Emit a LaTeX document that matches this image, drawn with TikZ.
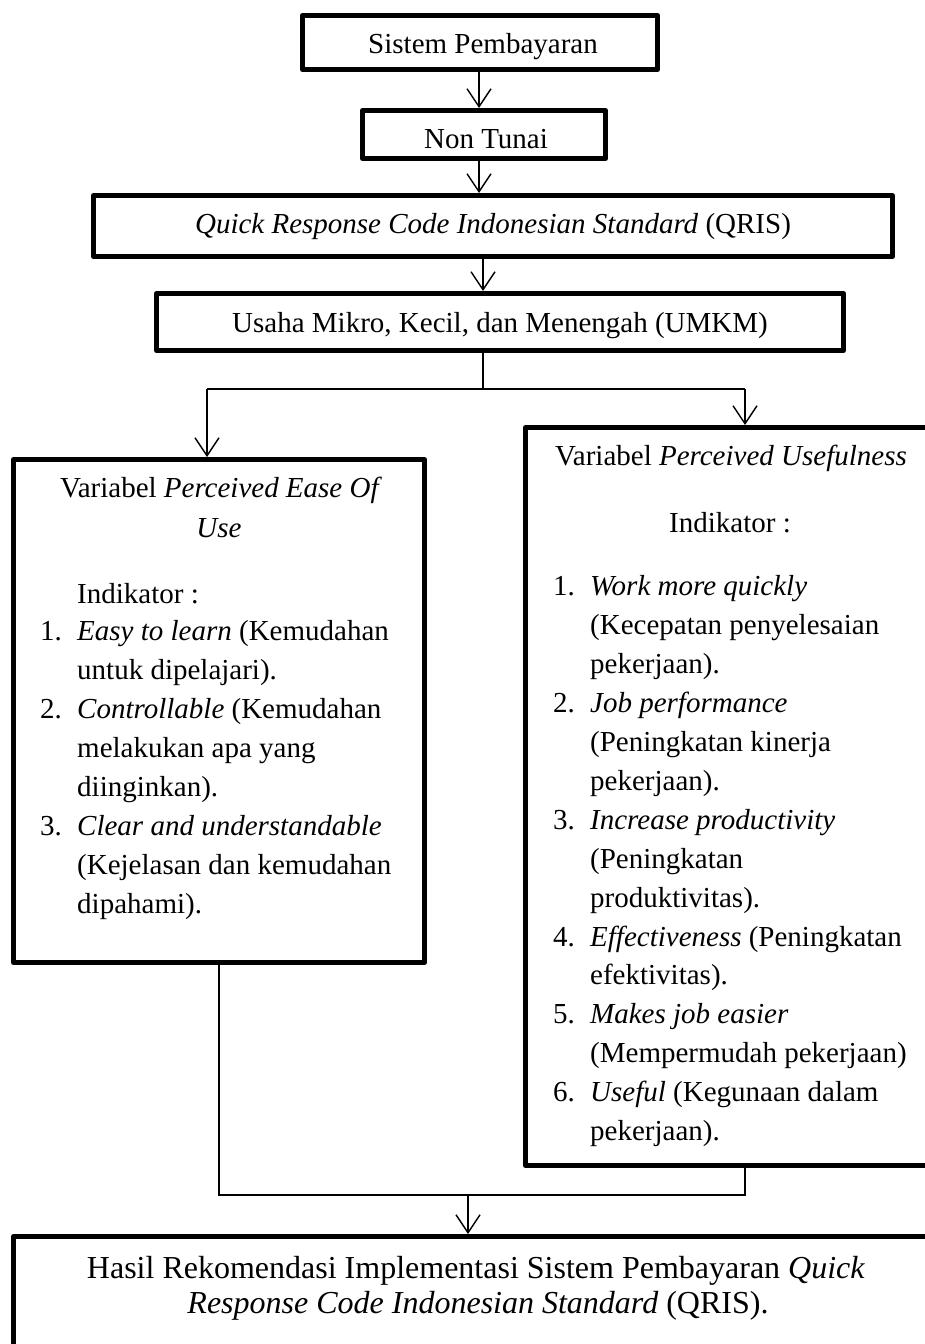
\documentclass[tikz,border=0pt]{standalone}
\usepackage{fontspec}
\setmainfont{Liberation Serif}
\usetikzlibrary{arrows.meta}
\begin{document}
\begin{tikzpicture}[x=1pt,y=-1pt,
  box/.style={draw, line width=5pt, line join=round, inner sep=0pt, fill=white},
  conn/.style={line width=1.4pt},
  arr/.style={conn, -{Straight Barb[length=18pt,width=24pt]}},
  txt/.style={inner sep=0pt, font=\fontsize{29}{39}\selectfont},
  ctr/.style={txt, anchor=base},
  lft/.style={txt, anchor=base west},
  big/.style={inner sep=0pt, anchor=base, font=\fontsize{32}{35}\selectfont}]
\useasboundingbox (0,0) rectangle (925,1344);
\clip (0,0) rectangle (925,1344);

% boxes
\node[box, minimum width=355pt, minimum height=54pt]  (b1) at (480,42.5) {};
\node[box, minimum width=243pt, minimum height=48pt]  (b2) at (484,134.5) {};
\node[box, minimum width=799pt, minimum height=61pt]  (b3) at (493,226) {};
\node[box, minimum width=687pt, minimum height=57pt]  (b4) at (500,322) {};
\node[box, minimum width=411pt, minimum height=503pt] (bL) at (219,711) {};
\node[box, minimum width=432pt, minimum height=738pt] (bR) at (741.5,796.5) {};
\node[box, minimum width=944pt, minimum height=161pt] (bB) at (485.5,1317) {};

% connector guides
\coordinate (a1) at (479,0);
\coordinate (a3) at (483,0);
\coordinate (j)  at (483,389);
\coordinate (jl) at (207,389);
\coordinate (jr) at (745,389);
\coordinate (kl) at (219,1195);
\coordinate (kr) at (745,1195);
\coordinate (km) at (468,1195);

\draw[arr] (b1.south -| a1) -- (b2.north -| a1);
\draw[arr] (b2.south -| a1) -- (b3.north -| a1);
\draw[arr] (b3.south -| a3) -- (b4.north -| a3);
\draw[conn] (b4.south -| a3) -- (j);
\draw[conn] (jl) -- (jr);
\draw[arr] (jl) -- (bL.north -| jl);
\draw[arr] (jr) -- (bR.north -| jr);
\draw[conn] (bL.south -| kl) -- (kl) -- (kr) -- (bR.south -| kr);
\draw[arr] (km) -- (bB.north -| km);

% texts of the top chain
\node[ctr] (t1) at (483,53) {Sistem Pembayaran};
\node[ctr] (t2) at (486,148) {Non Tunai};
\node[ctr] (t3) at (493,233) {\textit{Quick Response Code Indonesian Standard} (QRIS)};
\node[ctr] (t4) at (500,332) {Usaha Mikro, Kecil, dan Menengah (UMKM)};

% left variable
\node[ctr] (l0) at (221,497) {Variabel \textit{Perceived Ease Of}};
\node[ctr] (l1) at (219,537) {\textit{Use}};
\node[lft] (l2) at (77,603) {Indikator :};
\node[lft] (ln1) at (40,640) {1.};
\node[lft] (lt1) at (77,640) {\textit{Easy to learn} (Kemudahan};
\node[lft] (lt2) at (77,679) {untuk dipelajari).};
\node[lft] (ln2) at (40,718) {2.};
\node[lft] (lt3) at (77,718) {\textit{Controllable} (Kemudahan};
\node[lft] (lt4) at (77,757) {melakukan apa yang};
\node[lft] (lt5) at (77,796) {diinginkan).};
\node[lft] (ln3) at (40,835) {3.};
\node[lft] (lt6) at (77,835) {\textit{Clear and understandable}};
\node[lft] (lt7) at (77,874) {(Kejelasan dan kemudahan};
\node[lft] (lt8) at (77,913) {dipahami).};

% right variable
\node[ctr] (r0) at (731,465) {Variabel \textit{Perceived Usefulness}};
\node[ctr] (r1) at (730,532) {Indikator :};
\node[lft] (rn1) at (553,595) {1.};
\node[lft] (rt1) at (590,595) {\textit{Work more quickly}};
\node[lft] (rt2) at (590,634) {(Kecepatan penyelesaian};
\node[lft] (rt3) at (590,673) {pekerjaan).};
\node[lft] (rn2) at (553,712) {2.};
\node[lft] (rt4) at (590,712) {\textit{Job performance}};
\node[lft] (rt5) at (590,751) {(Peningkatan kinerja};
\node[lft] (rt6) at (590,790) {pekerjaan).};
\node[lft] (rn3) at (553,829) {3.};
\node[lft] (rt7) at (590,829) {\textit{Increase productivity}};
\node[lft] (rt8) at (590,868) {(Peningkatan};
\node[lft] (rt9) at (590,907) {produktivitas).};
\node[lft] (rn4) at (553,946) {4.};
\node[lft] (rt10) at (590,946) {\textit{Effectiveness} (Peningkatan};
\node[lft] (rt11) at (590,984) {efektivitas).};
\node[lft] (rn5) at (553,1023) {5.};
\node[lft] (rt12) at (590,1023) {\textit{Makes job easier}};
\node[lft] (rt13) at (590,1062) {(Mempermudah pekerjaan)};
\node[lft] (rn6) at (553,1101) {6.};
\node[lft] (rt14) at (590,1101) {\textit{Useful} (Kegunaan dalam};
\node[lft] (rt15) at (590,1140) {pekerjaan).};

% result box text
\node[big] (h1) at (476,1278) {Hasil Rekomendasi Implementasi Sistem Pembayaran \textit{Quick}};
\node[big] (h2) at (478,1313) {\textit{Response Code Indonesian Standard} (QRIS).};
\end{tikzpicture}
\end{document}
